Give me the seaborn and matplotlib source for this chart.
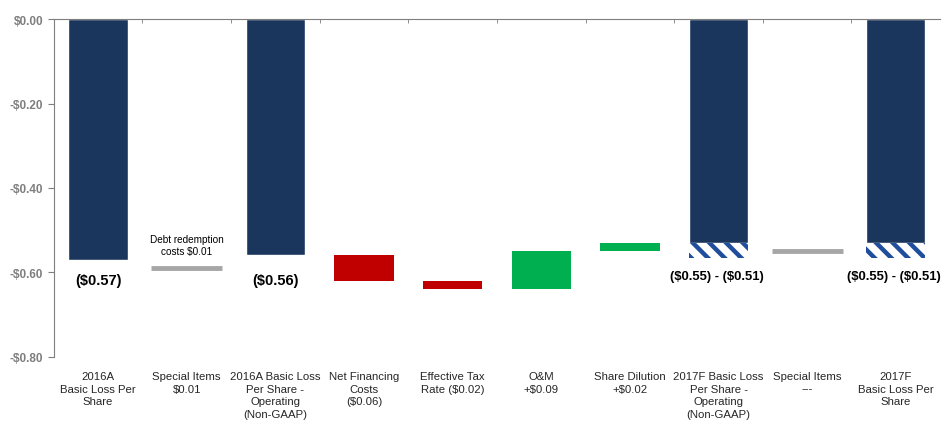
import matplotlib
matplotlib.use("Agg")
import matplotlib.pyplot as plt
import seaborn as sns
import pandas as pd
import numpy as np

# Chart data
categories = [
    "2016A\nBasic Loss Per\nShare",
    "Special Items\n$0.01",
    "2016A Basic Loss\nPer Share -\nOperating\n(Non-GAAP)",
    "Net Financing\nCosts\n($0.06)",
    "Effective Tax\nRate ($0.02)",
    "O&M\n+$0.09",
    "Share Dilution\n+$0.02",
    "2017F Basic Loss\nPer Share -\nOperating\n(Non-GAAP)",
    "Special Items\n---",
    "2017F\nBasic Loss Per\nShare",
]
# floating segments: start / end of each step
seg_start = [0.0, -0.59, 0.0, -0.56, -0.62, -0.64, -0.55, 0.0, -0.55, 0.0]
seg_end = [-0.57, -0.59, -0.56, -0.62, -0.64, -0.55, -0.53, -0.53, -0.55, -0.53]
kinds = ["total", "flat", "total", "neg", "neg", "pos", "pos", "total", "flat", "total"]
# forecast range shown hatched below the 2017F totals
range_low = [None] * 7 + [-0.565, None, -0.565]
value_labels = ["($0.57)", None, "($0.56)", None, None, None, None,
                "($0.55) - ($0.51)", None, "($0.55) - ($0.51)"]
note_text = "Debt redemption\ncosts $0.01"

navy = "#1b365d"
red = "#c00000"
green = "#00b050"
gray = "#a6a6a6"
hatch_blue = "#1f4f9c"

sns.set_style("white")
plt.rcParams["font.family"] = ["Liberation Sans", "DejaVu Sans"]
plt.rcParams["text.parse_math"] = False
plt.rcParams["hatch.linewidth"] = 3.2

fig, ax = plt.subplots(figsize=(9.42, 4.27), dpi=100)
fig.subplots_adjust(left=0.057, right=0.998, top=0.953, bottom=0.162)

# total bars via seaborn on the categorical axis
totals = pd.DataFrame({
    "cat": [c for c, k in zip(categories, kinds) if k == "total"],
    "val": [e for e, k in zip(seg_end, kinds) if k == "total"],
})
sns.barplot(data=totals, x="cat", y="val", order=categories, color=navy,
            saturation=1, width=0.67, ax=ax)

# floating steps
for i, (s, e, k) in enumerate(zip(seg_start, seg_end, kinds)):
    if k in ("neg", "pos"):
        ax.bar(i, e - s, bottom=s, width=0.67,
               color=red if k == "neg" else green, linewidth=0)
    elif k == "flat":
        ax.hlines(e, i - 0.4, i + 0.4, color=gray, linewidth=3.5)

# hatched forecast range
for i, low in enumerate(range_low):
    if low is not None:
        ax.bar(i, low - seg_end[i], bottom=seg_end[i], width=0.67,
               facecolor="white", edgecolor=hatch_blue, hatch="\\\\", linewidth=0)

# value labels
for i, lab in enumerate(value_labels):
    if lab is None:
        continue
    if i < 7:
        ax.text(i, -0.617, lab, ha="center", va="center", fontsize=10.5,
                fontweight="bold", color="black")
    else:
        ax.text(i - 0.02, -0.609, lab, ha="center", va="center", fontsize=9.4,
                fontweight="bold", color="black")

ax.text(1, -0.535, note_text, ha="center", va="center", fontsize=7.2,
        color="black", linespacing=1.3)

ax.set_ylim(-0.8, 0.0)
ax.set_xlim(-0.5, len(categories) - 0.5)
ax.set_yticks(np.arange(-0.8, 0.01, 0.2))
ax.set_yticklabels(["-$0.80", "-$0.60", "-$0.40", "-$0.20", "$0.00"])
ax.set_xlabel("")
ax.set_ylabel("")

ax.tick_params(axis="y", labelsize=8.5, labelcolor="#7f7f7f", color="#7f7f7f",
               length=4, direction="out", left=True)
for t in ax.get_yticklabels():
    t.set_fontweight("bold")
ax.tick_params(axis="x", labelsize=8.2, labelcolor="#262626", length=0, pad=10)
for t in ax.get_xticklabels():
    t.set_va("top")
    t.set_linespacing(1.35)

# boundary ticks on the zero line
ax.set_xticks(np.arange(0.5, len(categories) - 0.5, 1.0), minor=True)
ax.tick_params(axis="x", which="minor", top=True, bottom=False, direction="in",
               length=3, color="#7f7f7f")

for side in ("right", "bottom"):
    ax.spines[side].set_visible(False)
ax.spines["left"].set_color("#7f7f7f")
ax.spines["top"].set_color("#7f7f7f")

fig.savefig("out.png", dpi=100)
